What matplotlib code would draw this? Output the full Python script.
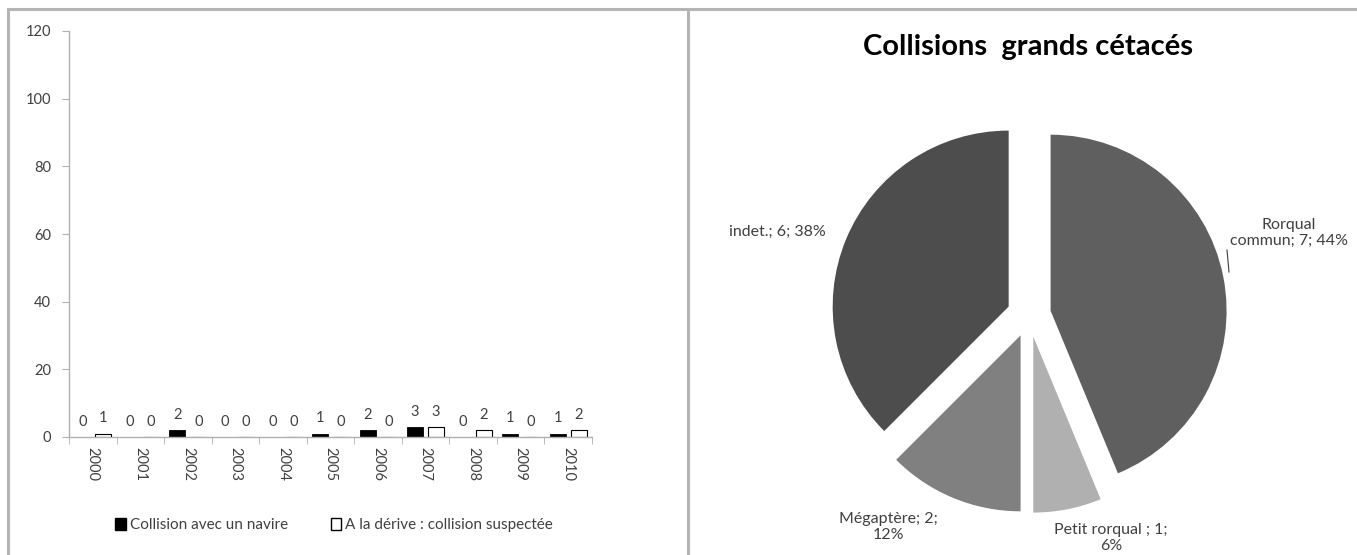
import matplotlib.pyplot as plt
from matplotlib.patches import Patch
from matplotlib.lines import Line2D
import numpy as np

plt.rcParams['font.family'] = ['Lato', 'DejaVu Sans']

# bar chart data
years = ['2000', '2001', '2002', '2003', '2004', '2005', '2006', '2007', '2008', '2009', '2010']
collision_navire = [0, 0, 2, 0, 0, 1, 2, 3, 0, 1, 1]
derive_suspectee = [1, 0, 0, 0, 0, 0, 0, 3, 2, 0, 2]
y_ticks = [0, 20, 40, 60, 80, 100, 120]

# pie chart data
especes = ['Rorqual\ncommun', 'Petit rorqual ', 'Mégaptère', 'indet.']
nb_collisions = [7, 1, 2, 6]
separateurs = [' ', '\n', '\n', ' ']
gris = ['#5f5f5f', '#b0b0b0', '#808080', '#4d4d4d']

W, H = 1357, 555
fig = plt.figure(figsize=(W / 100, H / 100), dpi=100)
txt = '#404040'

# panel frames
for xs, ys in [([8 / W, 1], [1 - 9 / H, 1 - 9 / H]),
               ([8 / W, 8 / W], [0, 1 - 9 / H]),
               ([688 / W, 688 / W], [0, 1 - 9 / H])]:
    fig.add_artist(Line2D(xs, ys, color='#b4b4b4', lw=2.2))

# ---- left: bars per year ----
ax = fig.add_axes([69 / W, (H - 437) / H, (592 - 69) / W, (437 - 31) / H])
x = np.arange(len(years))
bw, off = 0.34, 0.22
b1 = ax.bar(x - off, collision_navire, bw, color='black', edgecolor='black', lw=0.6)
b2 = ax.bar(x + off, derive_suspectee, bw, color='white', edgecolor='black', lw=0.8)
for bars, vals in [(b1, collision_navire), (b2, derive_suspectee)]:
    for r, v in zip(bars, vals):
        ax.annotate(str(v), (r.get_x() + r.get_width() / 2, v), xytext=(0, 6),
                    textcoords='offset points', ha='center', va='bottom',
                    fontsize=10.5, color=txt)

ax.set_xlim(-0.5, len(years) - 0.5)
ax.set_ylim(0, 120)
ax.set_yticks(y_ticks)
ax.set_yticklabels([str(t) for t in y_ticks], fontsize=10.5, color=txt)
ax.set_xticks(x)
ax.set_xticklabels(years, rotation=270, fontsize=10.5, color=txt)
ax.set_xticks(np.arange(-0.5, len(years)), minor=True)
ax.tick_params(axis='x', which='major', length=0, pad=7)
ax.tick_params(axis='x', which='minor', length=5, color='#b0b0b0')
ax.tick_params(axis='y', length=5, color='#b0b0b0', pad=8)
for s in ['top', 'right']:
    ax.spines[s].set_visible(False)
for s in ['left', 'bottom']:
    ax.spines[s].set_color('#b0b0b0')
    ax.spines[s].set_linewidth(1)

fig.legend(handles=[Patch(facecolor='black', edgecolor='black', label='Collision avec un navire'),
                    Patch(facecolor='white', edgecolor='black', label='A la dérive : collision suspectée')],
           loc='center', bbox_to_anchor=(334 / W, (H - 525) / H), ncol=2, frameon=False,
           fontsize=11, handlelength=0.7, handleheight=0.8, handletextpad=0.25,
           columnspacing=2.8, labelcolor=txt)

# ---- right: pie by species ----
cx, cy, r = 1029, 315, 176
lim = 1.3
side = 2 * lim * r
pax = fig.add_axes([(cx - side / 2) / W, (H - cy - side / 2) / H, side / W, side / H])
total = sum(nb_collisions)
pax.pie(nb_collisions, colors=gris, startangle=90, counterclock=False,
        explode=[0.125] * len(nb_collisions), radius=1,
        wedgeprops=dict(linewidth=0))
pax.set_xlim(-lim, lim)
pax.set_ylim(-lim, lim)
pax.set_aspect('equal')
pax.axis('off')

# label positions given in pixels of the figure
label_pos = [(1289, 233), (1111, 538), (888, 527), (777, 232)]
for nom, n, sep, (px, py) in zip(especes, nb_collisions, separateurs, label_pos):
    pct = round(100 * n / total)
    pax.text((px - cx) / r, (cy - py) / r, f"{nom}; {n};{sep}{pct}%",
             ha='center', va='center', fontsize=11.5, color=txt, linespacing=1.15)
pax.plot([(1227 - cx) / r, (1229 - cx) / r], [(cy - 250) / r, (cy - 272) / r],
         color='#404040', lw=0.8, clip_on=False)

fig.text(1028 / W, (H - 47) / H, 'Collisions  grands cétacés', ha='center', va='center',
         fontsize=21, fontweight='bold', color='black')

fig.savefig('out.png', dpi=100, facecolor='white')
